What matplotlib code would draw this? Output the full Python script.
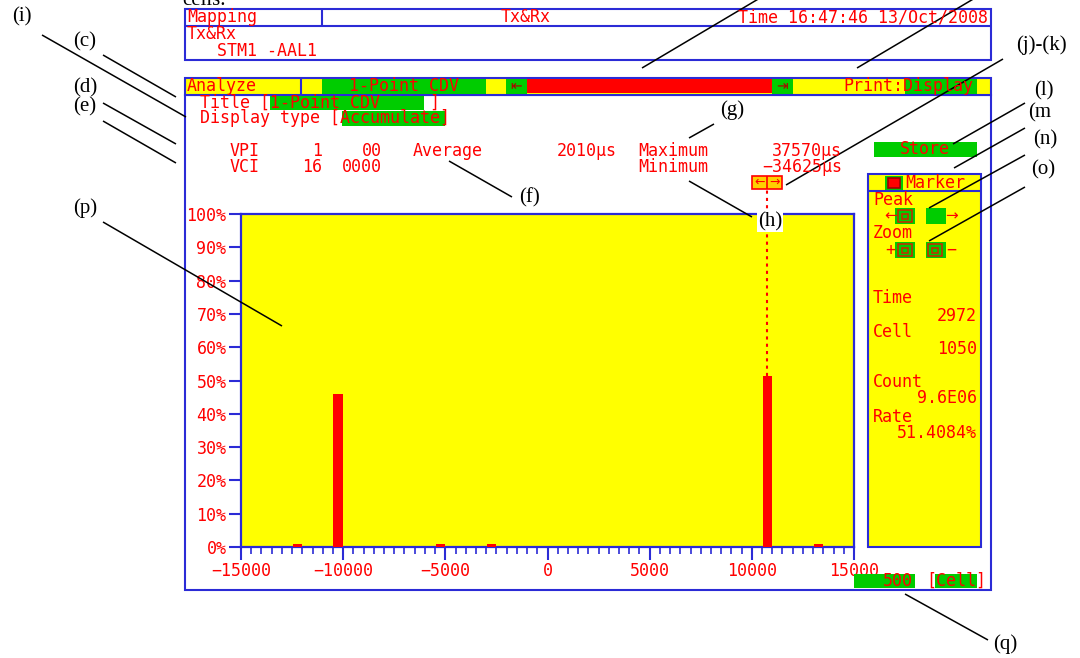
import matplotlib
matplotlib.use('Agg')
import matplotlib.pyplot as plt
from matplotlib.patches import Rectangle
from matplotlib.ticker import MultipleLocator

# ======================== DATA ========================
bin_centers = [-12250, -10250, -5250, -2750, 10750, 13250]
bin_rates = [0.9, 45.9, 0.9, 0.9, 51.4084, 0.9]
bin_width = 450
x_ticks = [-15000, -10000, -5000, 0, 5000, 10000, 15000]
y_ticks = [0, 10, 20, 30, 40, 50, 60, 70, 80, 90, 100]
y_labels = [f"{v}%" for v in y_ticks]
marker_x = 10750

marker_info = [("Time", "2972"), ("Cell", "1050"), ("Count", "9.6E06"), ("Rate", "51.4084%")]
callouts = ["(i)", "(c)", "(d)", "(e)", "(p)", "(f)", "(g)", "(h)", "(j)-(k)", "(l)", "(m", "(n)", "(o)", "(q)"]

# ======================== STYLE ========================
RED = '#ff0000'
YEL = '#ffff00'
GRN = '#00cc00'
BLUE = '#2b2bd6'
MONO = 'DejaVu Sans Mono'
SERIF = 'Liberation Serif'

fig = plt.figure(figsize=(10.8, 6.58), dpi=100)
W, H = 1080, 658

# ======================== HISTOGRAM ========================
ax = fig.add_axes([241 / W, 1 - 547 / H, 613 / W, 333 / H])
ax.set_facecolor(YEL)
ax.bar(bin_centers, bin_rates, width=bin_width, color=RED, zorder=3)
ax.set_xlim(-15000, 15000)
ax.set_ylim(0, 100)
ax.set_xticks(x_ticks)
ax.set_xticklabels([str(t).replace('-', '\u2212') for t in x_ticks])
ax.xaxis.set_minor_locator(MultipleLocator(500))
ax.set_yticks(y_ticks)
ax.set_yticklabels(y_labels)
for s in ax.spines.values():
    s.set_color(BLUE)
    s.set_linewidth(1.6)
ax.tick_params(which='major', direction='out', color=BLUE, length=9, width=1.5,
               labelcolor=RED, labelsize=12, pad=1.5)
ax.tick_params(which='minor', direction='out', color=BLUE, length=5, width=1.2)
ax.tick_params(axis='y', which='minor', left=False)
for lab in ax.get_xticklabels() + ax.get_yticklabels():
    lab.set_family(MONO)

# marker dotted line
ax.plot([marker_x, marker_x], [bin_rates[4], 107.5], color=RED, ls=(0, (1.5, 2)),
        lw=1.5, clip_on=False, zorder=4)

# ======================== SCREEN OVERLAY ========================
ov = fig.add_axes([0, 0, 1, 1])
ov.set_xlim(0, W)
ov.set_ylim(H, 0)
ov.axis('off')
ov.patch.set_alpha(0)
ov.set_zorder(10)


def box(x0, y0, x1, y1, fc='none', ec=BLUE, lw=1.5, z=2):
    ov.add_patch(Rectangle((x0, y0), x1 - x0, y1 - y0, facecolor=fc, edgecolor=ec, lw=lw, zorder=z))


def txt(x, y, s, ha='left', color=RED, size=12, family=MONO, **kw):
    ov.text(x, y, s, ha=ha, va='center', color=color, fontsize=size, family=family, zorder=6, **kw)


def line(x0, y0, x1, y1, c=BLUE, lw=1.5):
    ov.plot([x0, x1], [y0, y1], color=c, lw=lw, zorder=3, solid_capstyle='butt')


# top info box
box(185, 9, 991, 60, fc='white')
line(185, 26, 991, 26)
line(322, 9, 322, 26)
txt(187, 17, "Mapping")
txt(526, 17, "Tx&Rx", ha='center')
txt(988, 17, "Time 16:47:46 13/Oct/2008", ha='right')
txt(187, 34, "Tx&Rx")
txt(217, 51, "STM1 -AAL1")

# analyze bar
box(185, 77.5, 991, 94.7, fc=YEL)
line(301, 77.5, 301, 94.7)
box(322, 78.5, 486, 93.7, fc=GRN, ec='none')
box(506, 78.5, 527, 93.7, fc=GRN, ec='none')
box(527, 78.5, 772, 92.5, fc=RED, ec='none')
box(772, 78.5, 793, 93.7, fc=GRN, ec='none')
box(905, 78.5, 977, 93.7, fc=GRN, ec='none')
txt(187, 86, "Analyze")
txt(404, 86, "1-Point CDV", ha='center')
txt(516, 86, "\u21e4", ha='center', color='#b00000', size=10, family='DejaVu Sans')
txt(782, 86, "\u21e5", ha='center', color='#b00000', size=10, family='DejaVu Sans')
txt(843, 86, "Print:Display")

# main panel
box(185, 94.7, 991, 590, fc='none', z=1)
box(270, 96, 424, 110, fc=GRN, ec='none')
txt(200, 103, "Title [1-Point CDV     ]")
box(342, 111, 445, 126, fc=GRN, ec='none')
txt(200, 118, "Display type [Accumulate]")

txt(230, 151, "VPI")
txt(322, 151, "1", ha='right')
txt(382, 151, "00", ha='right')
txt(413, 151, "Average")
txt(617, 151, "2010\u00b5s", ha='right')
txt(230, 167, "VCI")
txt(322, 167, "16", ha='right')
txt(382, 167, "0000", ha='right')
txt(638, 151, "Maximum")
txt(842, 151, "37570\u00b5s", ha='right')
txt(638, 167, "Minimum")
txt(842, 167, "\u221234625\u00b5s", ha='right')

box(874, 142, 977, 157, fc=GRN, ec='none')
txt(925, 149.5, "Store", ha='center')

# marker pointer box
box(752, 176, 782, 189, fc='#ffd000', ec=RED, lw=1.2)
line(767, 176, 767, 189, c=RED, lw=1.2)
txt(759.5, 182.5, "\u2190", ha='center', size=9, family='DejaVu Sans')
txt(774.5, 182.5, "\u2192", ha='center', size=9, family='DejaVu Sans')

# marker side panel
box(868, 174, 981, 547, fc=YEL)
line(868, 191, 981, 191)
box(885, 175.5, 903, 190, fc=GRN, ec='none')
box(888, 178, 900, 188, fc=RED, ec='#a00000', lw=1.2)
txt(905, 183, "Marker")
txt(873, 200, "Peak")
txt(891, 216, "\u2190", ha='center', size=11, family='DejaVu Sans')
box(895, 208, 915, 224, fc=GRN, ec='none')
box(898, 210, 912, 222, fc='none', ec='#c03000', lw=1.2)
box(902, 213.5, 908, 218.5, fc='none', ec='#c03000', lw=1.2)
box(926, 208, 946, 224, fc=GRN, ec='none')
txt(951, 216, "\u2192", ha='center', size=11, family='DejaVu Sans')
txt(873, 233, "Zoom")
txt(890, 250, "+", ha='center')
box(895, 242, 915, 258, fc=GRN, ec='none')
box(898, 244, 912, 256, fc='none', ec='#c03000', lw=1.2)
box(902, 247.5, 908, 252.5, fc='none', ec='#c03000', lw=1.2)
box(926, 242, 946, 258, fc=GRN, ec='none')
box(928, 244, 942, 256, fc='none', ec='#c03000', lw=1.2)
box(932, 247.5, 938, 252.5, fc='none', ec='#c03000', lw=1.2)
txt(951, 250, "\u2212", ha='center')

info_y = [(298, 316), (332, 349), (382, 398), (417, 433)]
for (name, val), (y0, y1) in zip(marker_info, info_y):
    txt(873, y0, name)
    txt(977, y1, val, ha='right')

# cell width box
box(854, 574, 915, 588, fc=GRN, ec='none')
txt(913, 581, "500", ha='right')
box(935, 574, 977, 588, fc=GRN, ec='none')
txt(926, 581, "[Cell]")

# ======================== CALLOUTS ========================
ov.text(182, 5, "cells.", ha='left', va='baseline', fontsize=15, family=SERIF, color='black')

label_pos = [(22, 17), (85, 42), (85, 88), (85, 107), (85, 208), (529, 198), (732, 110),
             (770, 222), (1041, 45), (1044, 91), (1028, 113), (1045, 140), (1043, 170), (1005, 644)]
for lab, (x, y) in zip(callouts, label_pos):
    ha = 'left' if lab == "(m" else 'center'
    kw = {}
    if lab == "(h)":
        kw = dict(bbox=dict(facecolor='white', edgecolor='none', pad=0.5))
    ov.text(x, y, lab, ha=ha, va='center', fontsize=15, family=SERIF, color='black', zorder=7, **kw)

leaders = [((42, 35), (186, 117)), ((103, 55), (176, 97)), ((103, 103), (176, 144)),
           ((103, 121), (176, 163)), ((103, 222), (282, 326)), ((449, 161), (512, 197)),
           ((714, 124), (689, 138)), ((689, 181), (752, 217)), ((1003, 59), (786, 185)),
           ((1025, 103), (953, 144)), ((1025, 128), (954, 168)), ((1025, 155), (929, 208)),
           ((1025, 187), (929, 241)), ((905, 594), (988, 640)),
           ((760, -2), (642, 68)), ((975, -2), (857, 68))]
for (x0, y0), (x1, y1) in leaders:
    line(x0, y0, x1, y1, c='black', lw=1.1)

fig.savefig('out.png', dpi=100)
